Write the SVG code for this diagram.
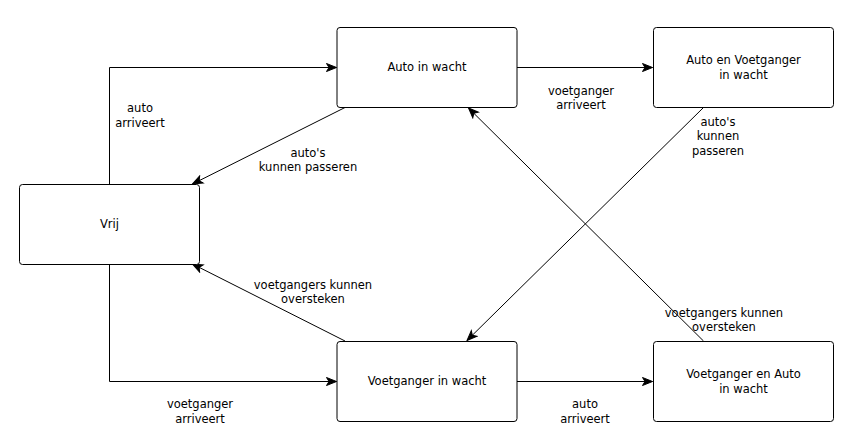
<svg xmlns="http://www.w3.org/2000/svg" width="865" height="445" viewBox="0 0 865 445">
<style>
.node rect{fill:#fff;stroke:#000;stroke-width:1}
text{font-family:"DejaVu Sans","Liberation Sans",sans-serif;font-size:11.5px;fill:#000;text-anchor:middle}
.edge{fill:none;stroke:#000;stroke-width:1}
</style>
<defs>
<marker id="arr" markerUnits="userSpaceOnUse" markerWidth="12" markerHeight="10" viewBox="0 0 12 10" refX="11" refY="5" orient="auto">
<path d="M1,1 L11,5 L1,9 L3.5,5 Z" fill="#000" stroke="#000" stroke-width="1" stroke-linejoin="miter"/>
</marker>
</defs>
<rect width="865" height="445" fill="#fff"/>
<g id="connectors">
<path class="edge" d="M109.5,184 V67.5 H336.5" marker-end="url(#arr)"/>
<path class="edge" d="M345,107.5 L192.5,184" marker-end="url(#arr)"/>
<path class="edge" d="M517,67.5 H652.5" marker-end="url(#arr)"/>
<path class="edge" d="M703.5,107.5 L467,340.5" marker-end="url(#arr)"/>
<path class="edge" d="M703.5,341 L468.5,108" marker-end="url(#arr)"/>
<path class="edge" d="M345,341 L192.5,264" marker-end="url(#arr)"/>
<path class="edge" d="M109.5,264 V381.5 H336.5" marker-end="url(#arr)"/>
<path class="edge" d="M517,381.5 H652.5" marker-end="url(#arr)"/>
<text x="140" y="112">auto</text>
<text x="140" y="126.5">arriveert</text>
<text x="308" y="157">auto's</text>
<text x="308" y="171">kunnen passeren</text>
<text x="581" y="94.5">voetganger</text>
<text x="581" y="109">arriveert</text>
<text x="718" y="125.5">auto's</text>
<text x="718" y="140">kunnen</text>
<text x="718" y="154.5">passeren</text>
<text x="724" y="316.5">voetgangers kunnen</text>
<text x="724" y="331">oversteken</text>
<text x="313" y="288.5">voetgangers kunnen</text>
<text x="313" y="303">oversteken</text>
<text x="200" y="408">voetganger</text>
<text x="200" y="423">arriveert</text>
<text x="585" y="408">auto</text>
<text x="585" y="423">arriveert</text>
</g>
<g id="vrij" class="node"><rect x="19.5" y="184.5" width="180" height="80" rx="3"/><text x="109.5" y="228">Vrij</text></g>
<g id="auto-in-wacht" class="node"><rect x="337" y="27.5" width="180" height="80" rx="3"/><text x="427" y="71">Auto in wacht</text></g>
<g id="auto-en-voetganger" class="node"><rect x="653.5" y="27.5" width="180" height="80" rx="3"/><text x="743.5" y="64">Auto en Voetganger</text><text x="743.5" y="78.5">in wacht</text></g>
<g id="voetganger-in-wacht" class="node"><rect x="337" y="341.5" width="180" height="80" rx="3"/><text x="427" y="385">Voetganger in wacht</text></g>
<g id="voetganger-en-auto" class="node"><rect x="653.5" y="341.5" width="180" height="80" rx="3"/><text x="743.5" y="378">Voetganger en Auto</text><text x="743.5" y="392.5">in wacht</text></g>
</svg>
